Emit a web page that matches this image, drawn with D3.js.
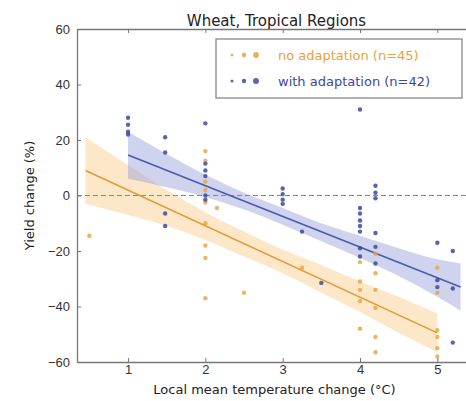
<!DOCTYPE html>
<html>
<head>
<meta charset="utf-8">
<script src="https://cdn.jsdelivr.net/npm/d3@7"></script>
<style>
  body { margin: 0; background: #fff; }
  svg { font-family: "DejaVu Sans", sans-serif; }
</style>
</head>
<body>
<svg id="chart" width="466" height="401"></svg>
<script>
// data
const xTicks = [1, 2, 3, 4, 5];
const yTicks = [60, 40, 20, 0, -20, -40, -60];
const legendLabels = ["no adaptation (n=45)", "with adaptation (n=42)"];

// no adaptation (orange) points: [temperature change, yield change]
const noAdaptPoints = [
    [0.5, -14.5],
    [2, 16], [2, 12.5], [2, 5], [2, 2], [2, -2.5], [2, -10], [2, -18], [2, -22.5], [2, -37],
    [2.15, -4.5], [2.5, -35], [3.25, -26],
    [4, -24], [4, -31], [4, -34], [4, -38], [4, -48],
    [4.2, -21], [4.2, -28], [4.2, -34], [4.2, -40.5], [4.2, -51], [4.2, -56.5],
    [5, -26], [5, -35], [5, -48.5], [5, -51], [5, -55], [5, -58]
];
// with adaptation (blue) points
const adaptPoints = [
    [1, 28], [1, 25.5], [1, 23], [1, 22],
    [1.48, 21], [1.48, 15.5], [1.48, -6.5], [1.48, -11],
    [2, 26], [2, 11.5], [2, 9], [2, 7], [2, 0], [2, -1.5],
    [3, 2.5], [3, 0.5], [3, -1.5], [3, -3],
    [3.25, -13], [3.5, -31.5],
    [4, 31], [4, -4.5], [4, -6.5], [4, -9], [4, -11], [4, -13], [4, -19], [4, -22],
    [4.2, 3.5], [4.2, 1], [4.2, -1], [4.2, -13.5], [4.2, -18.5], [4.2, -24.5],
    [5, -17], [5, -30.5], [5, -33],
    [5.2, -20], [5.2, -33.5], [5.2, -53]
];

// regression lines (end points) and confidence bands [t, low, high]
const noAdaptLine = [[0.45, 9], [5, -49.5]];
const adaptLine = [[1, 14.6], [5.3, -33]];
const noAdaptBand = [
    [0.45, -3, 21], [1, -7, 11], [1.5, -11, 2], [2, -16, -6], [2.5, -22, -13],
    [3, -28, -19.5], [3.5, -35, -25], [4, -42, -31], [4.5, -49.5, -36.5], [5, -56.5, -42.5]
];
const adaptBand = [
    [1, 6, 23], [1.5, 3, 15], [2, -0.5, 7.5], [2.5, -5, 1], [3, -10.5, -4.5],
    [3.5, -16.5, -10], [4, -22.5, -14.5], [4.5, -29, -19], [5, -36.5, -23], [5.3, -41.5, -24.5]
];

const orange = "#e8a33a", blue = "#3b4a9e";

const svg = d3.select("#chart"),
    margin = { top: 29, left: 77 },
    width = 399,
    height = 333;

const x = d3.scaleLinear().domain([0.34, 5.5]).range([margin.left, margin.left + width]);
const y = d3.scaleLinear().domain([-60, 60]).range([margin.top + height, margin.top]);

svg.append("clipPath").attr("id", "plotclip")
    .append("rect")
    .attr("x", margin.left).attr("y", margin.top)
    .attr("width", width).attr("height", height);

const plot = svg.append("g").attr("clip-path", "url(#plotclip)");

// bands
const band = d3.area()
    .x(d => x(d[0]))
    .y0(d => y(d[1]))
    .y1(d => y(d[2]))
    .curve(d3.curveMonotoneX);

plot.append("path").datum(noAdaptBand)
    .attr("d", band).attr("fill", "#f7c77f").attr("fill-opacity", 0.42);
plot.append("path").datum(adaptBand)
    .attr("d", band).attr("fill", "#9096d6").attr("fill-opacity", 0.42);

// zero line
plot.append("line")
    .attr("x1", margin.left).attr("x2", margin.left + width)
    .attr("y1", y(0)).attr("y2", y(0))
    .attr("stroke", "#888").attr("stroke-width", 1.2)
    .attr("stroke-dasharray", "5,3");

// regression lines
const line = d3.line().x(d => x(d[0])).y(d => y(d[1]));
plot.append("path").datum(noAdaptLine)
    .attr("d", line).attr("stroke", "#e39a35").attr("stroke-width", 1.6).attr("fill", "none");
plot.append("path").datum(adaptLine)
    .attr("d", line).attr("stroke", "#4a5ab0").attr("stroke-width", 1.6).attr("fill", "none");

// points
plot.selectAll(".noadapt")
    .data(noAdaptPoints)
    .enter().append("circle")
    .attr("class", "noadapt")
    .attr("cx", d => x(d[0]))
    .attr("cy", d => y(d[1]))
    .attr("r", 2.2)
    .attr("fill", orange)
    .attr("fill-opacity", 0.8);

plot.selectAll(".adapt")
    .data(adaptPoints)
    .enter().append("circle")
    .attr("class", "adapt")
    .attr("cx", d => x(d[0]))
    .attr("cy", d => y(d[1]))
    .attr("r", 2.2)
    .attr("fill", blue)
    .attr("fill-opacity", 0.85);

// axes: ticks inside on all sides
const axisColor = "#777";
function styleAxis(g) {
    g.select(".domain").attr("stroke", axisColor).attr("stroke-width", 1.3);
    g.selectAll(".tick line").attr("stroke", axisColor);
    g.selectAll(".tick text").attr("fill", "#333").style("font-size", "13px");
}

svg.append("g")
    .attr("transform", `translate(0,${margin.top + height})`)
    .call(d3.axisBottom(x).tickValues(xTicks).tickSizeInner(-4).tickSizeOuter(0).tickPadding(3)
        .tickFormat(d3.format("d")))
    .call(styleAxis);
svg.append("g")
    .attr("transform", `translate(0,${margin.top})`)
    .call(d3.axisTop(x).tickValues(xTicks).tickSizeInner(-4).tickSizeOuter(0).tickFormat(""))
    .call(styleAxis);
svg.append("g")
    .attr("transform", `translate(${margin.left},0)`)
    .call(d3.axisLeft(y).tickValues(yTicks).tickSizeInner(-4).tickSizeOuter(0).tickPadding(7)
        .tickFormat(d => d < 0 ? "\u2212" + Math.abs(d) : d))
    .call(styleAxis);

// title and axis labels
svg.append("text")
    .attr("x", margin.left + width / 2).attr("y", 26)
    .attr("text-anchor", "middle")
    .style("font-size", "15px").attr("fill", "#222")
    .text("Wheat, Tropical Regions");

svg.append("text")
    .attr("x", margin.left + width / 2 - 2).attr("y", 394)
    .attr("text-anchor", "middle")
    .style("font-size", "13px").attr("fill", "#222")
    .text("Local mean temperature change (°C)");

svg.append("text")
    .attr("transform", `translate(34,${y(0)}) rotate(-90)`)
    .attr("text-anchor", "middle")
    .style("font-size", "13px").attr("fill", "#222")
    .text("Yield change (%)");

// legend
const legend = svg.append("g");
legend.append("rect")
    .attr("x", 216).attr("y", 39).attr("width", 246).attr("height", 59)
    .attr("fill", "#fff").attr("stroke", "#888").attr("stroke-width", 1.3);

[orange, blue].forEach((c, i) => {
    const row = legend.append("g").attr("transform", `translate(0,${55 + i * 26})`);
    [1.5, 2.2, 2.9].forEach((r, j) => {
        row.append("circle")
            .attr("cx", 232 + j * 12).attr("cy", 0).attr("r", r)
            .attr("fill", c).attr("fill-opacity", 0.85);
    });
    row.append("text")
        .attr("x", 278).attr("y", 0).attr("dy", "0.35em")
        .style("font-size", "13px").attr("fill", c)
        .text(legendLabels[i]);
});
</script>
</body>
</html>
